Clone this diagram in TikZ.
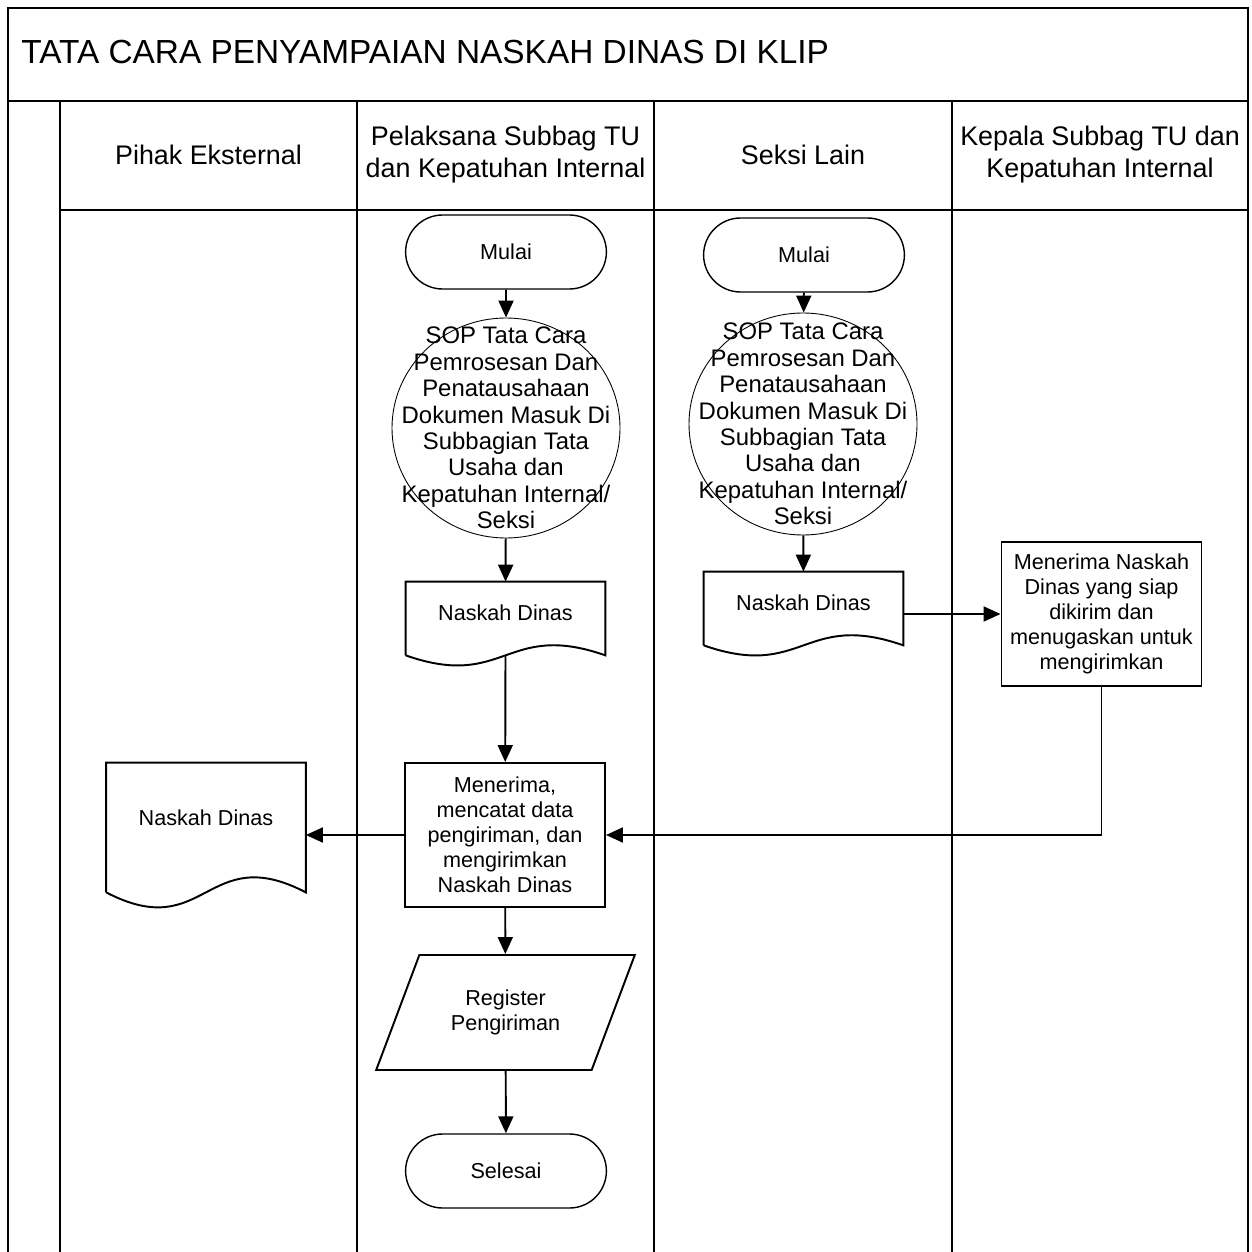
\documentclass[tikz,border=0pt]{standalone}
\usepackage{fontspec}
\setmainfont{Liberation Sans}
\usepackage{tikz}
\usetikzlibrary{shapes,arrows.meta,calc}
\tikzstyle{teks} = [font=\fontsize{12.3}{14.3}\selectfont, align=center]
\tikzstyle{proses} = [teks, rectangle, draw, line width=1.1pt,
    minimum width=40mm, minimum height=28.8mm]
\tikzstyle{terminal} = [teks, rounded rectangle, draw, line width=0.8pt,
    minimum width=42.5mm, minimum height=14.8mm]
\tikzstyle{sop} = [ellipse, draw, line width=0.5pt, inner sep=0pt,
    minimum width=45.6mm, minimum height=44mm]
\tikzstyle{sopteks} = [font=\fontsize{13.6}{15}\selectfont, align=center]
\tikzstyle{dokumen} = [teks, rectangle, minimum width=39.8mm, text depth=2.5mm]
\tikzstyle{register} = [teks, trapezium, trapezium left angle=62, trapezium right angle=118,
    trapezium stretches=true, draw, line width=1.1pt, minimum width=51.8mm, minimum height=23mm]
\tikzstyle{kepala} = [font=\fontsize{15.3}{18.2}\selectfont, align=center]
\tikzstyle{bingkai} = [line width=1.1pt]
% dokumen: sisi atas lurus, bawah bergelombang
\newcommand{\gbrdok}[2]{%
  \draw[line width=1.1pt] (#1.south west) -- (#1.north west) -- (#1.north east) -- (#1.south east)
    .. controls ($(#1.south)+(0,-#2)$) and ($(#1.south)+(0,#2)$) .. (#1.south west);}
\begin{document}
\begin{tikzpicture}[x=0.2mm, y=-0.2mm,
    panah/.style={draw, line width=1.1pt, -{Triangle[length=3.4mm,width=3mm]}}]
\useasboundingbox (0,0) rectangle (1252,1252);

% swimlane
\draw [bingkai] (8,1252) -- (8,8) -- (1248,8) -- (1248,1252);
\draw [bingkai] (8,101) -- (1248,101);
\draw [bingkai] (60,210) -- (1248,210);
\foreach \x in {60,357,654,952}
  \draw [bingkai] (\x,101) -- (\x,1252);

\node [anchor=west, inner sep=0pt, font=\fontsize{19}{22}\selectfont] at (21,52.5) (judul)
  {TATA CARA PENYAMPAIAN NASKAH DINAS DI KLIP};
\node [kepala] at (208.5,155) (heks) {Pihak Eksternal};
\node [kepala] at (505.5,155) (hpel) {Pelaksana Subbag TU\\dan Kepatuhan Internal};
\node [kepala] at (803,155) (hsek) {Seksi Lain};
\node [kepala] at (1100,155) (hkasub) {Kepala Subbag TU dan\\Kepatuhan Internal};

% Pelaksana
\node [terminal] at (506,252) (mulai1) {Mulai};
\node [sop, label={[sopteks]center:{SOP Tata Cara\\Pemrosesan Dan\\Penatausahaan\\Dokumen Masuk Di\\Subbagian Tata\\Usaha dan\\Kepatuhan Internal/\\Seksi}}]
  at (506,428) (sop1) {};
\node [dokumen, minimum height=14.6mm] at (505.5,618.5) (naskah1) {Naskah Dinas};
\node [proses] at (505,835) (terima) {Menerima,\\mencatat data\\pengiriman, dan\\mengirimkan\\Naskah Dinas};
\node [register] at (505.5,1012.5) (register) {Register\\Pengiriman};
\node [terminal] at (506,1171) (selesai) {Selesai};

% Pihak Eksternal
\node [dokumen, minimum height=25.8mm, text depth=3.8mm] at (206,827.5) (naskah3) {Naskah Dinas};

% Seksi Lain
\node [terminal] at (804,255) (mulai2) {Mulai};
\node [sop, minimum height=44.4mm, label={[sopteks]center:{SOP Tata Cara\\Pemrosesan Dan\\Penatausahaan\\Dokumen Masuk Di\\Subbagian Tata\\Usaha dan\\Kepatuhan Internal/\\Seksi}}]
  at (803,424) (sop2) {};
\node [dokumen, minimum height=14.6mm] at (803.5,608.5) (naskah2) {Naskah Dinas};

% Kepala Subbag
\node [proses] at (1101.5,614) (kasubbag) {Menerima Naskah\\Dinas yang siap\\dikirim dan\\menugaskan untuk\\mengirimkan};

\gbrdok{naskah1}{35}
\gbrdok{naskah2}{35}
\gbrdok{naskah3}{52}

\draw [panah] (mulai1) -- (sop1);
\draw [panah] (sop1) -- (naskah1);
\draw [panah] (naskah1.south) -- (terima);
\draw [panah] (terima.west) -- (terima.west -| naskah3.east);
\draw [panah] (terima) -- (register);
\draw [panah] (register) -- (selesai);
\draw [panah] (mulai2) -- (sop2);
\draw [panah] (sop2) -- (naskah2);
\draw [panah] (kasubbag.west -| naskah2.east) -- (kasubbag.west);
\draw [panah] (kasubbag.south) |- (terima.east);
\end{tikzpicture}
\end{document}
